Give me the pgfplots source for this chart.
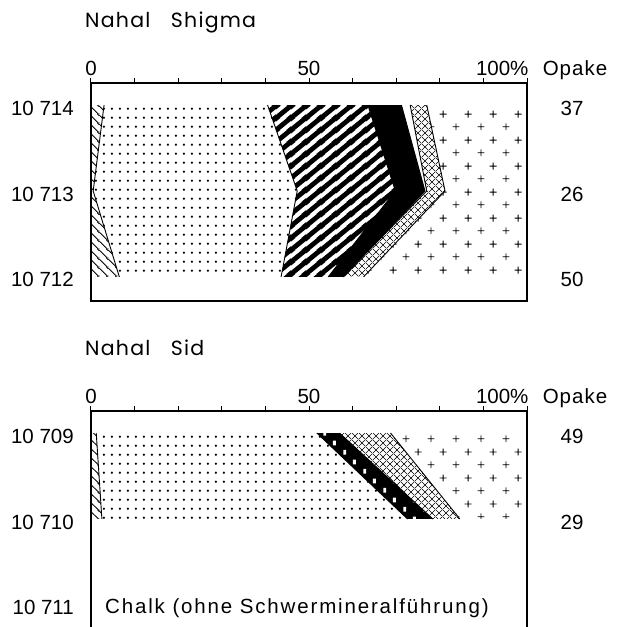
\documentclass[border=0pt]{standalone}
\usepackage{fontspec}
\setmainfont{Liberation Sans}
\newfontfamily\headfont[LetterSpace=6]{Poppins}
\newfontfamily\widefont[LetterSpace=9]{Liberation Sans}
\newfontfamily\midfont[LetterSpace=5]{Liberation Sans}
\usepackage{pgfplots}
\pgfplotsset{compat=1.18}
\usetikzlibrary{patterns,patterns.meta}

\newcommand{\lab}{\fontsize{20.5pt}{24pt}\selectfont}
\newcommand{\hlab}{\fontsize{20.5pt}{24pt}\selectfont}

% left hatch "\"
\tikzdeclarepattern{name=hatchnw, type=uncolored,
  bounding box={(0pt,0pt) and (9pt,9pt)}, tile size={(9pt,9pt)},
  code={\draw[line width=0.9pt] (-1pt,10pt)--(10pt,-1pt);
        \draw[line width=0.9pt] (-1pt,1pt)--(1pt,-1pt);
        \draw[line width=0.9pt] (8pt,10pt)--(10pt,8pt);}}
% dots
\tikzdeclarepattern{name=mydots, type=uncolored,
  bounding box={(0pt,0pt) and (8.4pt,8.8pt)}, tile size={(8.4pt,8.8pt)},
  code={\fill (4.2pt,4.4pt) circle (1.3pt);}}
% thick stripes "/"
\tikzdeclarepattern{name=stripes, type=uncolored,
  bounding box={(0pt,0pt) and (14.5pt,12.2pt)}, tile size={(14.5pt,12.2pt)},
  code={\draw[line width=5pt] (-14.5pt,-24.4pt)--(29pt,12.2pt);
        \draw[line width=5pt] (-14.5pt,-12.2pt)--(29pt,24.4pt);
        \draw[line width=5pt] (-14.5pt,0pt)--(29pt,36.6pt);}}
% fine crosshatch
\tikzdeclarepattern{name=xhatch, type=uncolored,
  bounding box={(0pt,0pt) and (6.5pt,6.5pt)}, tile size={(6.5pt,6.5pt)},
  code={\draw[line width=0.55pt] (-0.5pt,-0.5pt)--(7pt,7pt);
        \draw[line width=0.55pt] (-0.5pt,7pt)--(7pt,-0.5pt);}}
% plus signs
\tikzdeclarepattern{name=pluses, type=uncolored,
  bounding box={(0pt,0pt) and (25pt,26pt)}, tile size={(25pt,26pt)},
  code={\draw[line width=0.8pt] (2.75pt,6.5pt)--(9.75pt,6.5pt) (6.25pt,3pt)--(6.25pt,10pt);
        \draw[line width=0.8pt] (15.25pt,19.5pt)--(22.25pt,19.5pt) (18.75pt,16pt)--(18.75pt,23pt);}}
% white holes for black band
\tikzdeclarepattern{name=holes, type=uncolored,
  bounding box={(0pt,0pt) and (20pt,18.8pt)}, tile size={(20pt,18.8pt)},
  code={\fill (3.5pt,2.3pt) rectangle (6.5pt,7.1pt);
        \fill (13.5pt,11.7pt) rectangle (16.5pt,16.5pt);}}

\pgfplotsset{panel/.style={
  width=436pt, height=218pt, scale only axis,
  xmin=0, xmax=100, ymin=-0.28, ymax=2.256,
  xtick={0,10,...,100}, xticklabels={}, xtick pos=right,
  tick align=outside, major tick length=5pt,
  ytick=\empty, axis line style={line width=1.3pt},
  every tick/.style={black, line width=1pt},
  clip=false},
  bnd/.style={black, line width=0.9pt, mark=none}}
\tikzset{
  ylab/.style={font=\lab, anchor=east, inner sep=0pt, xshift=-17pt, yshift=-3pt},
  rlab/.style={font=\lab, xshift=45pt, yshift=-3pt}}

\begin{document}
\begin{tikzpicture}

% ---------------- Nahal Shigma ----------------
% cumulative percent boundaries; y = 2: 10 714, 1: 10 713, 0: 10 712
\begin{axis}[panel, at={(91pt,-83pt)}, anchor=north west]
\addplot[draw=none, pattern=hatchnw] coordinates {(0,2) (3.0,2) (0.5,1) (6.5,0) (0,0)} -- cycle;
\addplot[draw=none, pattern=mydots] coordinates {(3.0,2) (40.5,2) (47.3,1) (43.6,0) (6.5,0) (0.5,1)} -- cycle;
\addplot[draw=none, pattern=stripes] coordinates {(40.5,2) (63.5,2) (69.8,1) (54.4,0) (43.6,0) (47.3,1)} -- cycle;
\addplot[draw=none, fill=black] coordinates {(63.5,2) (71.2,2) (76.6,1) (57.8,0) (54.4,0) (69.8,1)} -- cycle;
\addplot[draw=none, pattern=xhatch] coordinates {(73.2,2) (77.0,2) (81.2,1) (62.5,0) (57.8,0) (77.0,1)} -- cycle;
\addplot[draw=none, pattern=pluses] coordinates {(77.0,2) (100,2) (100,0) (62.5,0) (81.2,1)} -- cycle;
\addplot[bnd] coordinates {(3.0,2) (0.5,1) (6.5,0)};
\addplot[bnd] coordinates {(40.5,2) (47.3,1) (43.6,0)};
\addplot[bnd] coordinates {(63.5,2) (69.8,1) (54.4,0)};
\addplot[bnd] coordinates {(71.2,2) (76.6,1) (57.8,0)};
\addplot[bnd] coordinates {(73.2,2) (77.0,1) (57.8,0)};
\addplot[bnd] coordinates {(77.0,2) (81.2,1) (62.5,0)};

\node[font=\lab, anchor=base] at (rel axis cs:0,1) [yshift=8pt] {0};
\node[font=\lab, anchor=base] at (rel axis cs:0.5,1) [yshift=8pt] {50};
\node[font=\lab, anchor=base east] at (rel axis cs:1,1) [yshift=8pt, xshift=5pt] {100\%};
\node[font=\midfont\lab, anchor=base] at (rel axis cs:1,1) [yshift=8pt, xshift=48pt] {Opake};
\node[font=\headfont\hlab, anchor=base west, inner sep=0pt] at (rel axis cs:0,1) [yshift=56pt, xshift=-6pt] {Nahal\hspace{1em}Shigma};
\node[ylab] at (axis cs:0,2) {10 714};
\node[ylab] at (axis cs:0,1) {10 713};
\node[ylab] at (axis cs:0,0) {10 712};
\node[rlab] at (axis cs:100,2) {37};
\node[rlab] at (axis cs:100,1) {26};
\node[rlab] at (axis cs:100,0) {50};
\end{axis}

% ---------------- Nahal Sid ----------------
% y = 2: 10 709, 1: 10 710, 0: 10 711
\begin{axis}[panel, at={(91pt,-411pt)}, anchor=north west]
\addplot[draw=none, pattern=hatchnw] coordinates {(0,2) (1.2,2) (2.5,1) (0,1)} -- cycle;
\addplot[draw=none, pattern=mydots] coordinates {(1.2,2) (51.8,2) (72.6,1) (2.5,1)} -- cycle;
\addplot[draw=none, fill=black, postaction={pattern=holes, pattern color=white}] coordinates {(51.8,2) (57.0,2) (78.4,1) (72.6,1)} -- cycle;
\addplot[draw=none, pattern=xhatch] coordinates {(57.0,2) (68.7,2) (84.6,1) (78.4,1)} -- cycle;
\addplot[draw=none, pattern=pluses] coordinates {(68.7,2) (100,2) (100,1) (84.6,1)} -- cycle;
\addplot[bnd] coordinates {(1.2,2) (2.5,1)};
\addplot[bnd] coordinates {(51.8,2) (72.6,1)};
\addplot[bnd] coordinates {(57.0,2) (78.4,1)};
\addplot[bnd] coordinates {(68.7,2) (84.6,1)};

\node[font=\lab, anchor=base] at (rel axis cs:0,1) [yshift=8pt] {0};
\node[font=\lab, anchor=base] at (rel axis cs:0.5,1) [yshift=8pt] {50};
\node[font=\lab, anchor=base east] at (rel axis cs:1,1) [yshift=8pt, xshift=5pt] {100\%};
\node[font=\midfont\lab, anchor=base] at (rel axis cs:1,1) [yshift=8pt, xshift=48pt] {Opake};
\node[font=\headfont\hlab, anchor=base west, inner sep=0pt] at (rel axis cs:0,1) [yshift=56pt, xshift=-6pt] {Nahal\hspace{1em}Sid};
\node[ylab] at (axis cs:0,2) {10 709};
\node[ylab] at (axis cs:0,1) {10 710};
\node[ylab] at (axis cs:0,0) {10 711};
\node[rlab] at (axis cs:100,2) {49};
\node[rlab] at (axis cs:100,1) {29};
\node[font=\widefont\lab, anchor=west, inner sep=0pt] at (axis cs:0,0) [xshift=14pt, yshift=-3pt] {Chalk (ohne Schwermineralführung)};
\end{axis}

\pgfresetboundingbox
\path (0pt,0pt) rectangle (621pt,-627pt);
\end{tikzpicture}
\end{document}
